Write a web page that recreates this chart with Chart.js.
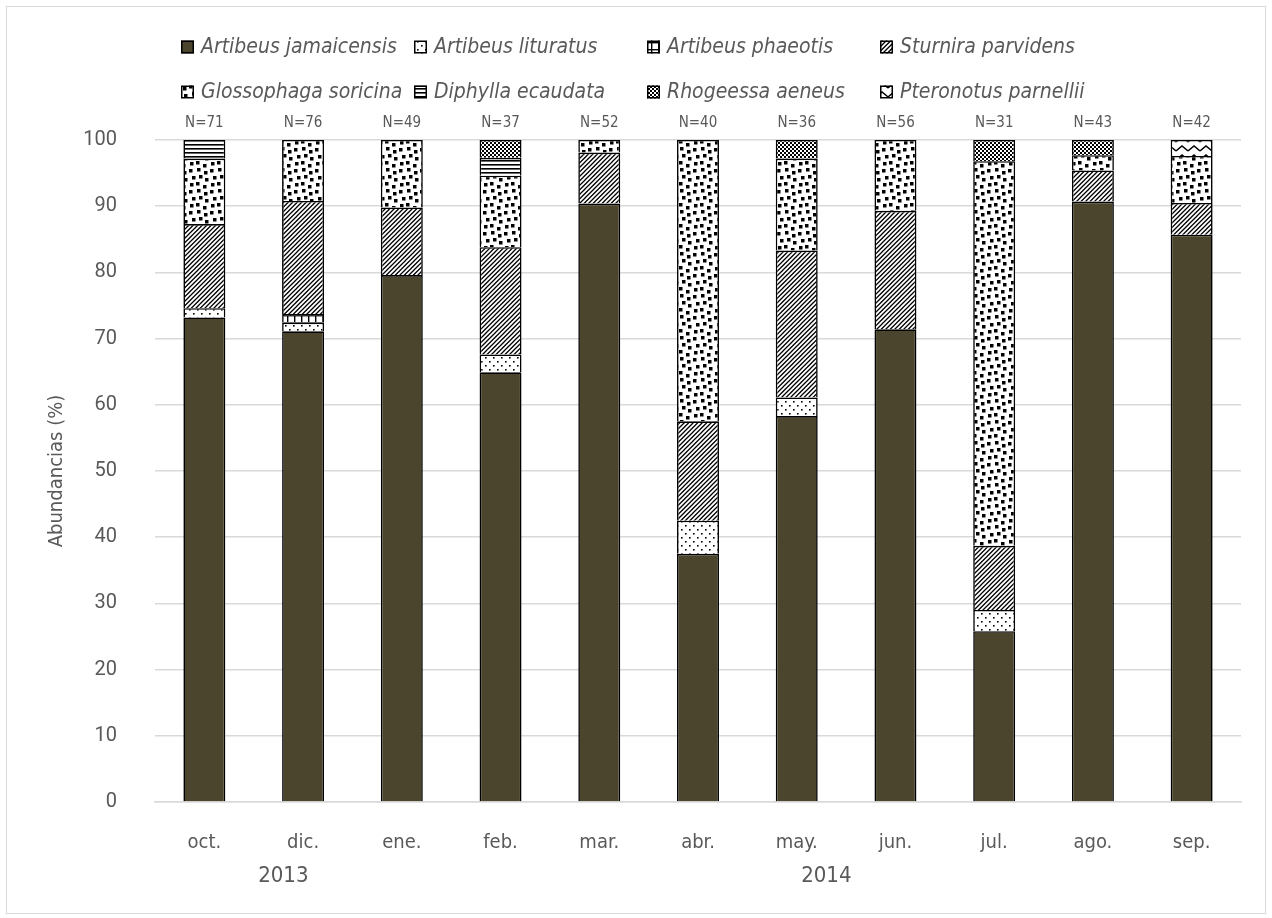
<!DOCTYPE html>
<html>
<head>
<meta charset="utf-8">
<script src="https://cdn.jsdelivr.net/npm/chart.js@4/dist/chart.umd.min.js"></script>
<style>
  html, body { margin: 0; padding: 0; background: #fff; }
  #frame { position: absolute; left: 6px; top: 6px; width: 1260px; height: 908px;
           border: 1.5px solid #d9d9d9; box-sizing: border-box; }
  #wrap { position: absolute; left: 0; top: 0; width: 1272px; height: 918px; }
</style>
</head>
<body>
<div id="frame"></div>
<div id="wrap"><canvas id="chart" width="1272" height="918"></canvas></div>
<script>
// Sampling months and the year each one belongs to
const months = ['oct.', 'dic.', 'ene.', 'feb.', 'mar.', 'abr.', 'may.', 'jun.', 'jul.', 'ago.', 'sep.'];
const years = ['2013', '2014'];
const yearOfMonth = [0, 0, 1, 1, 1, 1, 1, 1, 1, 1, 1];
// Captures per month (N)
const sampleSizes = [71, 76, 49, 37, 52, 40, 36, 56, 31, 43, 42];
const yTicks = [0, 10, 20, 30, 40, 50, 60, 70, 80, 90, 100];

// Relative abundance (%) of each species per month
const artibeusJamaicensis = [73.2, 71.1, 79.6, 64.9, 90.4, 37.5, 58.3, 71.4, 25.8, 90.7, 85.7];
const artibeusLituratus   = [1.4, 1.3, 0, 2.7, 0, 5.0, 2.8, 0, 3.2, 0, 0];
const artibeusPhaeotis    = [0, 1.3, 0, 0, 0, 0, 0, 0, 0, 0, 0];
const sturniraParvidens   = [12.7, 17.1, 10.2, 16.2, 7.7, 15.0, 22.2, 17.9, 9.7, 4.7, 4.8];
const glossophagaSoricina = [9.9, 9.2, 10.2, 10.8, 1.9, 42.5, 13.9, 10.7, 58.1, 2.3, 7.1];
const diphyllaEcaudata    = [2.8, 0, 0, 2.7, 0, 0, 0, 0, 0, 0, 0];
const rhogeessaAeneus     = [0, 0, 0, 2.7, 0, 0, 2.8, 0, 3.2, 2.3, 0];
const pteronotusParnellii = [0, 0, 0, 0, 0, 0, 0, 0, 0, 0, 2.4];

const TEXT = '#595959';
const NARROW = "'DejaVu Sans Condensed', 'DejaVu Sans', sans-serif";
const ROUND = "Roboto, 'Open Sans', sans-serif";

// ---- fill patterns for the species segments ----
function tile(w, h, paint) {
  const c = document.createElement('canvas');
  c.width = w; c.height = h;
  const g = c.getContext('2d');
  g.fillStyle = '#fff';
  g.fillRect(0, 0, w, h);
  g.fillStyle = '#000';
  g.strokeStyle = '#000';
  paint(g);
  return g.createPattern(c, 'repeat');
}
const patterns = {
  dots: tile(8, 8, g => { g.fillRect(1, 1, 1.6, 1.6); g.fillRect(5, 5, 1.6, 1.6); }),
  grid: tile(7, 7, g => { g.fillRect(0, 0, 7, 1.4); g.fillRect(0, 0, 1.4, 7); }),
  diagonal: tile(9, 9, g => {
    g.lineWidth = 1.3;
    g.beginPath();
    for (let o = -9; o <= 18; o += 4.5) { g.moveTo(o - 1, 10); g.lineTo(o + 10, -1); }
    g.stroke();
  }),
  confetti: tile(21, 21, g => {
    [[0, 1], [8, 0], [15, 3], [3, 8], [10, 7], [16, 10], [1, 15], [7, 14], [14, 17]]
      .forEach(([x, y]) => g.fillRect(x, y, 3.5, 3.5));
  }),
  hlines: tile(4, 4, g => { g.fillRect(0, 0, 4, 1.6); }),
  checker: tile(4, 4, g => { g.fillRect(0, 0, 2, 2); g.fillRect(2, 2, 2, 2); }),
  zigzag: tile(12, 9, g => {
    g.lineWidth = 1.5;
    g.beginPath();
    g.moveTo(0, 7); g.lineTo(6, 2); g.lineTo(12, 7);
    g.stroke();
  })
};

function series(label, data, fill) {
  return {
    label, data,
    backgroundColor: fill,
    borderColor: '#000',
    borderWidth: ctx => (ctx.raw > 0 ? 1.6 : 0),
    borderSkipped: 'start',
    barPercentage: 0.425,
    categoryPercentage: 1.0
  };
}

const datasets = [
  series('Artibeus jamaicensis', artibeusJamaicensis, '#4a452c'),
  series('Artibeus lituratus', artibeusLituratus, patterns.dots),
  series('Artibeus phaeotis', artibeusPhaeotis, patterns.grid),
  series('Sturnira parvidens', sturniraParvidens, patterns.diagonal),
  series('Glossophaga soricina', glossophagaSoricina, patterns.confetti),
  series('Diphylla ecaudata', diphyllaEcaudata, patterns.hlines),
  series('Rhogeessa aeneus', rhogeessaAeneus, patterns.checker),
  series('Pteronotus parnellii', pteronotusParnellii, patterns.zigzag)
];

// Two-row legend laid out on a fixed column grid
const legendLayout = { rows: [47, 92], cols: [181, 414, 647, 880], box: 13, gap: 7 };
const gridLegend = {
  id: 'gridLegend',
  afterDraw(chart) {
    const ctx = chart.ctx;
    ctx.save();
    ctx.font = 'italic 21px ' + NARROW;
    ctx.textBaseline = 'middle';
    ctx.textAlign = 'left';
    chart.data.datasets.forEach((ds, i) => {
      const row = Math.floor(i / 4), col = i % 4;
      const x = legendLayout.cols[col], y = legendLayout.rows[row];
      const b = legendLayout.box;
      ctx.fillStyle = ds.backgroundColor;
      ctx.fillRect(x, y - b / 2, b, b);
      ctx.lineWidth = 1.5;
      ctx.strokeStyle = '#000';
      ctx.strokeRect(x + 0.75, y - b / 2 + 0.75, b - 1.5, b - 1.5);
      ctx.fillStyle = TEXT;
      ctx.fillText(ds.label, x + b + legendLayout.gap, y + 1);
    });
    ctx.restore();
  }
};

// N= labels above bars and the year row under the month labels
const annotations = {
  id: 'annotations',
  afterDraw(chart) {
    const ctx = chart.ctx;
    const xs = chart.scales.x, ys = chart.scales.y;
    ctx.save();
    ctx.fillStyle = TEXT;
    ctx.textAlign = 'center';
    ctx.textBaseline = 'middle';
    ctx.font = '15px ' + NARROW;
    sampleSizes.forEach((n, i) => {
      ctx.fillText('N=' + n, xs.getPixelForValue(i), ys.getPixelForValue(100) - 17);
    });
    ctx.font = '22px ' + NARROW;
    const step = xs.getPixelForValue(1) - xs.getPixelForValue(0);
    years.forEach((yr, k) => {
      const idx = yearOfMonth.map((v, i) => (v === k ? i : -1)).filter(i => i >= 0);
      const first = xs.getPixelForValue(idx[0]);
      const last = xs.getPixelForValue(idx[idx.length - 1]);
      ctx.fillText(yr, (first + last) / 2 + step * 0.3, xs.bottom - 42);
    });
    ctx.restore();
  }
};

new Chart(document.getElementById('chart'), {
  type: 'bar',
  data: { labels: months, datasets },
  options: {
    responsive: false,
    animation: false,
    events: [],
    layout: { padding: { top: 140, left: 0, right: 31, bottom: 0 } },
    plugins: { legend: { display: false }, tooltip: { enabled: false } },
    scales: {
      x: {
        stacked: true,
        grid: { display: false, drawTicks: false },
        border: { display: true, color: '#d9d9d9', width: 1.5 },
        ticks: { color: TEXT, font: { family: NARROW, size: 20 }, padding: 29, maxRotation: 0 },
        afterFit(scale) { scale.height = 116; }
      },
      y: {
        stacked: true,
        min: 0, max: 100,
        afterBuildTicks(scale) { scale.ticks = yTicks.map(v => ({ value: v })); },
        grid: { color: '#d9d9d9', lineWidth: 1.5, drawTicks: false },
        border: { display: false },
        ticks: { color: TEXT, font: { family: ROUND, size: 20 }, padding: 38 },
        title: {
          display: true, text: 'Abundancias (%)', color: TEXT,
          font: { family: NARROW, size: 20 }, padding: { top: 45, bottom: 0 }
        },
        afterFit(scale) { scale.width = 155; }
      }
    }
  },
  plugins: [gridLegend, annotations]
});
</script>
</body>
</html>
